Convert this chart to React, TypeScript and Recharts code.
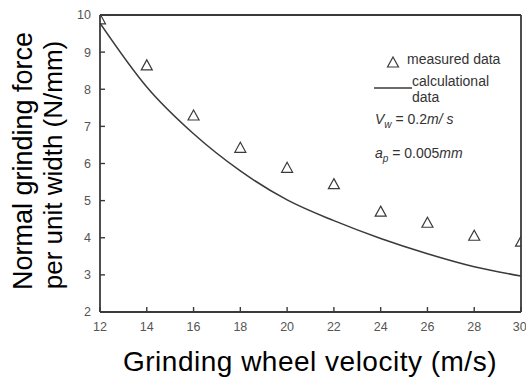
import { ComposedChart, Line, Scatter, XAxis, YAxis } from "recharts";

const velocity = [12, 14, 16, 18, 20, 22, 24, 26, 28, 30];
const measured = [9.87, 8.63, 7.28, 6.41, 5.87, 5.43, 4.69, 4.39, 4.04, 3.88];
const calculated = [9.78, 8.06, 6.8, 5.8, 5.02, 4.46, 3.98, 3.57, 3.22, 2.97];
const xTicks = [12, 14, 16, 18, 20, 22, 24, 26, 28, 30];
const yTicks = [2, 3, 4, 5, 6, 7, 8, 9, 10];

const table = velocity.map((v, i) => ({ v, measured: measured[i], calculated: calculated[i] }));

const ink = "#3a3a3a";
const font = "'Liberation Sans', Arial, sans-serif";
const tickStyle = { fill: "#555", fontSize: 12.5, fontFamily: font };
const axisLine = { stroke: ink, strokeWidth: 1.8 };
const tickLine = { stroke: ink, strokeWidth: 1.4 };

const Triangle = (props: any) => {
  const { cx, cy } = props;
  if (cx == null || cy == null) return null;
  return (
    <path
      d={`M${cx},${cy - 6} L${cx + 5.5},${cy + 4} L${cx - 5.5},${cy + 4} Z`}
      fill="none"
      stroke={ink}
      strokeWidth={1.2}
    />
  );
};

export default function App() {
  return (
    <div style={{ position: "absolute", left: 0, top: 0, width: 526, height: 380, background: "#fff" }}>
      <ComposedChart width={526} height={380} data={table} margin={{ top: 14, right: 4, bottom: 0, left: 0 }}>
        <XAxis
          xAxisId="b"
          dataKey="v"
          type="number"
          domain={[12, 30]}
          ticks={xTicks}
          height={68}
          tickSize={-5}
          tickMargin={15}
          tick={tickStyle}
          axisLine={axisLine}
          tickLine={tickLine}
          allowDataOverflow
        />
        <XAxis
          xAxisId="t"
          dataKey="v"
          orientation="top"
          type="number"
          domain={[12, 30]}
          ticks={xTicks}
          height={1}
          tickSize={-5}
          tick={false}
          axisLine={axisLine}
          tickLine={tickLine}
          allowDataOverflow
        />
        <YAxis
          yAxisId="l"
          type="number"
          domain={[2, 10]}
          ticks={yTicks}
          width={100}
          tickSize={-5}
          tickMargin={14}
          tick={tickStyle}
          axisLine={axisLine}
          tickLine={tickLine}
          allowDataOverflow
        />
        <YAxis
          yAxisId="r"
          orientation="right"
          type="number"
          domain={[2, 10]}
          ticks={yTicks}
          width={1}
          tickSize={-5}
          tick={false}
          axisLine={axisLine}
          tickLine={tickLine}
          allowDataOverflow
        />
        <Line
          xAxisId="b"
          yAxisId="l"
          type="monotone"
          dataKey="calculated"
          stroke={ink}
          strokeWidth={1.5}
          dot={false}
          isAnimationActive={false}
        />
        <Scatter
          xAxisId="b"
          yAxisId="l"
          dataKey="measured"
          shape={Triangle}
          isAnimationActive={false}
        />
      </ComposedChart>
      <svg
        width={526}
        height={380}
        style={{ position: "absolute", left: 0, top: 0, pointerEvents: "none" }}
        fontFamily={font}
      >
        <text transform="translate(32,161) rotate(-90)" textAnchor="middle" fontSize={27} fill="#000">
          Normal grinding force
        </text>
        <text transform="translate(62,165) rotate(-90)" textAnchor="middle" fontSize={26} fill="#000">
          per unit width (N/mm)
        </text>
        <text x={310} y={371} textAnchor="middle" fontSize={28} letterSpacing={0.5} fill="#000">
          Grinding wheel velocity (m/s)
        </text>

        <path d="M393,57 L398.5,67 L387.5,67 Z" fill="none" stroke={ink} strokeWidth={1.2} />
        <text x={407} y={64} fontSize={14} fill="#333">measured data</text>
        <line x1={374} y1={88} x2={412} y2={88} stroke={ink} strokeWidth={1.5} />
        <text x={412} y={86} fontSize={14} fill="#333">calculational</text>
        <text x={412} y={102} fontSize={14} fill="#333">data</text>

        <text x={375} y={124} fontSize={14} fill="#333">
          <tspan fontStyle="italic">V</tspan>
          <tspan fontStyle="italic" fontSize={10} dy={4}>w</tspan>
          <tspan dy={-4}> = 0.2</tspan>
          <tspan fontStyle="italic">m/ s</tspan>
        </text>
        <text x={375} y={158} fontSize={14} fill="#333">
          <tspan fontStyle="italic">a</tspan>
          <tspan fontStyle="italic" fontSize={10} dy={4}>p</tspan>
          <tspan dy={-4}> = 0.005</tspan>
          <tspan fontStyle="italic">mm</tspan>
        </text>
      </svg>
    </div>
  );
}
